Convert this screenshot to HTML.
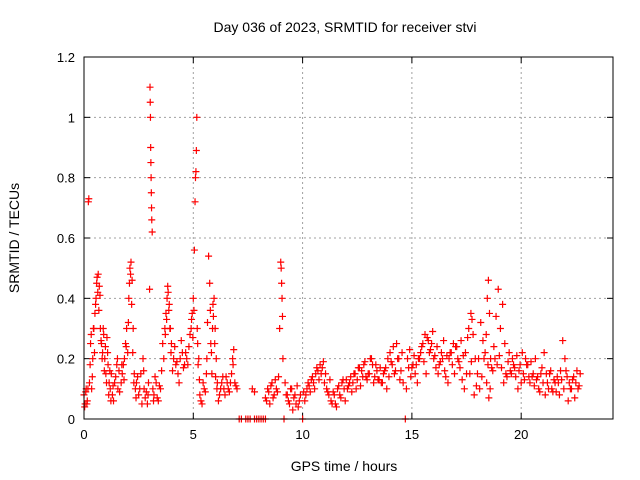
<!DOCTYPE html>
<html><head><meta charset="utf-8"><style>
body{margin:0;background:#fff;}
svg{display:block;font-family:"Liberation Sans",sans-serif;}
</style></head><body>
<svg id="chart" width="640" height="480">
<text x="345" y="32" text-anchor="middle" font-size="14">Day 036 of 2023, SRMTID for receiver stvi</text>
<text x="344" y="471" text-anchor="middle" font-size="14">GPS time / hours</text>
<text transform="translate(19,238) rotate(-90)" text-anchor="middle" font-size="14">SRMTID / TECUs</text>
<g id="grid"></g><g id="ticks"></g><g id="marks"></g>
<rect x="84" y="57" width="529" height="362" fill="none" stroke="#000" stroke-width="1"/>
</svg>
<script>
const xTicks=[0,5,10,15,20];
const xTickLabels=["0","5","10","15","20"];
const yTicks=[0,0.2,0.4,0.6,0.8,1,1.2];
const yTickLabels=["0","0.2","0.4","0.6","0.8","1","1.2"];
const hours=[0,0.05,0.1,0.15,0.2,0.22,0.25,0.3,0.35,0.4,0.45,0.5,0.55,0.6,0.65,0.7,0.75,0.8,0.85,0.9,0.95,1.0,1.05,1.1,1.15,1.2,1.25,1.3,1.35,1.4,1.5,1.55,1.6,1.7,1.75,1.8,1.85,1.9,1.95,2.0,2.05,2.1,2.15,2.2,2.25,2.3,2.35,2.4,2.5,2.6,2.7,2.75,2.8,2.9,2.95,3.0,3.02,3.03,3.04,3.05,3.06,3.07,3.08,3.09,3.1,3.12,3.15,3.2,3.3,3.4,3.5,3.6,3.7,3.75,3.8,3.85,3.9,3.95,4.0,4.1,4.2,4.3,4.4,4.5,4.6,4.7,4.8,4.9,4.95,5.0,5.05,5.08,5.1,5.12,5.14,5.16,5.18,5.2,5.25,5.3,5.4,5.5,5.6,5.65,5.7,5.75,5.8,5.85,5.9,5.95,6.0,6.05,6.1,6.2,6.3,6.4,6.5,6.6,6.7,6.8,6.85,6.9,7.0,7.1,7.2,7.4,7.5,7.6,7.7,7.8,7.8,7.9,8.0,8.1,8.2,8.3,8.3,8.4,8.5,8.6,8.7,8.8,8.9,8.95,9.0,9.02,9.04,9.06,9.08,9.1,9.15,9.2,9.3,9.4,9.5,9.6,9.7,9.8,9.9,10.0,10.1,10.2,10.3,10.4,10.5,10.6,10.7,10.8,10.9,11.0,11.1,11.2,11.3,11.4,11.5,11.6,11.7,11.8,11.9,12.0,12.1,12.2,12.3,12.4,12.5,12.6,12.7,12.8,12.9,13.0,13.1,13.2,13.3,13.4,13.5,13.6,13.7,13.8,13.9,14.0,14.1,14.2,14.3,14.4,14.5,14.6,14.7,14.75,14.8,14.9,15.0,15.1,15.2,15.3,15.4,15.5,15.6,15.7,15.8,15.9,16.0,16.1,16.2,16.3,16.4,16.5,16.6,16.7,16.8,16.9,17.0,17.1,17.2,17.3,17.4,17.5,17.6,17.7,17.75,17.8,17.9,18.0,18.1,18.2,18.3,18.4,18.45,18.5,18.55,18.6,18.7,18.8,18.9,19.0,19.1,19.2,19.3,19.4,19.5,19.6,19.7,19.8,19.9,20.0,20.1,20.2,20.3,20.4,20.5,20.6,20.7,20.8,20.9,21.0,21.1,21.2,21.3,21.4,21.5,21.6,21.7,21.8,21.9,22.0,22.1,22.2,22.3,22.4,22.5,22.6,22.7];
const srmtid=[0.08,0.05,0.1,0.06,0.72,0.73,0.12,0.25,0.1,0.2,0.3,0.35,0.4,0.47,0.48,0.44,0.3,0.25,0.22,0.28,0.2,0.15,0.27,0.18,0.12,0.1,0.15,0.08,0.06,0.12,0.18,0.1,0.16,0.12,0.15,0.18,0.2,0.25,0.3,0.22,0.4,0.5,0.52,0.46,0.3,0.15,0.1,0.12,0.08,0.15,0.2,0.1,0.07,0.05,0.12,0.43,1.1,1.05,1.0,0.9,0.85,0.8,0.75,0.7,0.66,0.62,0.1,0.08,0.12,0.06,0.1,0.25,0.3,0.35,0.4,0.42,0.38,0.3,0.25,0.2,0.18,0.15,0.2,0.22,0.18,0.2,0.24,0.3,0.35,0.4,0.56,0.72,0.8,0.82,0.89,1.0,0.3,0.25,0.2,0.08,0.05,0.1,0.15,0.32,0.54,0.45,0.25,0.15,0.38,0.4,0.3,0.2,0.12,0.08,0.12,0.1,0.14,0.1,0.12,0.2,0.23,0.12,0.1,0,0,0,0,0,0.1,0,0.09,0,0,0,0,0,0.07,0.1,0.05,0.12,0.08,0.1,0.14,0.3,0.52,0.5,0.45,0.4,0.34,0.2,0,0.12,0.08,0.05,0.1,0.07,0.05,0.04,0.08,0,0.06,0.1,0.11,0.13,0.12,0.15,0.16,0.18,0.17,0.12,0.1,0.08,0.06,0.09,0.05,0.1,0.08,0.12,0.1,0.13,0.11,0.14,0.12,0.15,0.13,0.17,0.16,0.18,0.14,0.15,0.2,0.18,0.14,0.16,0.13,0.12,0.15,0.17,0.2,0.22,0.18,0.15,0.25,0.2,0.16,0.12,0,0.1,0.2,0.23,0.17,0.21,0.18,0.2,0.22,0.25,0.28,0.27,0.22,0.25,0.2,0.17,0.15,0.19,0.2,0.16,0.21,0.2,0.22,0.25,0.24,0.2,0.17,0.13,0.1,0.15,0.3,0.35,0.33,0.28,0.2,0.15,0.1,0.14,0.2,0.28,0.4,0.46,0.35,0.2,0.16,0.2,0.18,0.21,0.17,0.12,0.15,0.19,0.16,0.2,0.17,0.21,0.16,0.12,0.15,0.2,0.18,0.12,0.14,0.11,0.13,0.1,0.15,0.12,0.08,0.12,0.15,0.1,0.13,0.09,0.12,0.16,0.26,0.2,0.14,0.12,0.1,0.14,0.12,0.1,0.15];
const hours2=[0.03,0.08,0.13,0.18,0.28,0.33,0.38,0.43,0.48,0.53,0.58,0.63,0.68,0.73,0.78,0.83,0.88,0.93,0.98,1.03,1.08,1.13,1.18,1.23,1.33,1.45,1.53,1.63,1.73,1.83,1.93,2.03,2.08,2.13,2.18,2.23,2.28,2.38,2.45,2.55,2.65,2.73,2.85,2.93,3.18,3.25,3.35,3.45,3.55,3.65,3.72,3.78,3.83,3.88,3.93,3.98,4.05,4.15,4.25,4.35,4.45,4.55,4.65,4.75,4.85,4.92,4.98,5.03,5.22,5.28,5.35,5.45,5.55,5.62,5.78,5.83,5.88,5.92,5.98,6.02,6.08,6.15,6.25,6.35,6.45,6.55,6.65,6.75,6.82,6.95,8.35,8.45,8.55,8.65,8.75,8.85,9.25,9.35,9.45,9.55,9.65,9.75,9.85,10.05,10.15,10.25,10.35,10.45,10.55,10.65,10.75,10.85,10.95,11.05,11.15,11.25,11.35,11.45,11.55,11.65,11.75,11.85,11.95,12.05,12.15,12.25,12.35,12.45,12.55,12.65,12.75,12.85,12.95,13.05,13.15,13.25,13.35,13.45,13.55,13.65,13.75,13.85,13.95,14.05,14.15,14.25,14.35,14.45,14.55,14.85,14.95,15.05,15.15,15.25,15.35,15.45,15.55,15.65,15.75,15.85,15.95,16.05,16.15,16.25,16.35,16.45,16.55,16.65,16.75,16.85,16.95,17.05,17.15,17.25,17.35,17.45,17.55,17.65,17.72,17.85,17.95,18.05,18.15,18.25,18.35,18.42,18.48,18.52,18.58,18.65,18.75,18.85,18.95,19.05,19.15,19.25,19.35,19.45,19.55,19.65,19.75,19.85,19.95,20.05,20.15,20.25,20.35,20.45,20.55,20.65,20.75,20.85,20.95,21.05,21.15,21.25,21.35,21.45,21.55,21.65,21.75,21.85,21.95,22.05,22.15,22.25,22.35,22.45,22.55,22.65];
const srmtid2=[0.04,0.09,0.05,0.1,0.18,0.28,0.14,0.3,0.22,0.38,0.45,0.42,0.36,0.41,0.26,0.2,0.3,0.16,0.24,0.12,0.22,0.08,0.16,0.06,0.11,0.14,0.2,0.09,0.18,0.13,0.24,0.32,0.45,0.48,0.38,0.22,0.12,0.07,0.14,0.1,0.05,0.16,0.09,0.08,0.06,0.14,0.07,0.11,0.16,0.2,0.28,0.33,0.44,0.36,0.3,0.22,0.16,0.24,0.19,0.12,0.26,0.17,0.22,0.18,0.28,0.33,0.27,0.36,0.18,0.13,0.06,0.12,0.09,0.2,0.36,0.22,0.3,0.34,0.25,0.14,0.1,0.06,0.1,0.14,0.08,0.12,0.09,0.15,0.18,0.11,0.06,0.09,0.11,0.07,0.13,0.09,0.08,0.06,0.1,0.03,0.08,0.11,0.06,0.09,0.08,0.12,0.09,0.14,0.1,0.17,0.13,0.15,0.19,0.15,0.09,0.13,0.05,0.08,0.04,0.11,0.07,0.13,0.06,0.1,0.12,0.09,0.15,0.1,0.17,0.11,0.14,0.19,0.13,0.15,0.2,0.12,0.18,0.13,0.17,0.12,0.16,0.1,0.14,0.19,0.24,0.16,0.2,0.13,0.22,0.17,0.14,0.18,0.15,0.12,0.2,0.24,0.19,0.15,0.26,0.23,0.29,0.21,0.24,0.18,0.22,0.26,0.14,0.12,0.22,0.18,0.15,0.24,0.19,0.26,0.21,0.22,0.27,0.15,0.19,0.08,0.11,0.2,0.32,0.26,0.22,0.12,0.18,0.07,0.1,0.17,0.24,0.34,0.43,0.3,0.38,0.25,0.14,0.22,0.15,0.18,0.14,0.1,0.18,0.22,0.13,0.18,0.14,0.19,0.15,0.2,0.14,0.09,0.17,0.22,0.15,0.1,0.16,0.09,0.12,0.14,0.08,0.13,0.1,0.16,0.06,0.1,0.13,0.07,0.16,0.11,0.14,0.12,0.22,0.17,0.11,0.16,0.08,0.12,0.14,0.11];
const NS="http://www.w3.org/2000/svg";
const X0=84,X1=613,Y0=419,Y1=57,XMAX=24.2,YMAX=1.2;
function xs(v){return X0+(X1-X0)*v/XMAX;}
function ys(v){return Y0-(Y0-Y1)*v/YMAX;}
function mk(tag,a,p){const e=document.createElementNS(NS,tag);for(const k in a)e.setAttribute(k,a[k]);p.appendChild(e);return e;}
const grid=document.getElementById('grid'),ticks=document.getElementById('ticks'),marks=document.getElementById('marks');
xTicks.forEach((t,i)=>{const x=xs(t);
 if(t>0){const g=mk('line',{x1:x,x2:x,y1:Y0,y2:Y1,stroke:'#a0a0a0','stroke-dasharray':'2,3'},grid);
 
 }
 mk('line',{x1:x,x2:x,y1:Y0,y2:Y0-6,stroke:'#000'},ticks);
 mk('line',{x1:x,x2:x,y1:Y1,y2:Y1+6,stroke:'#000'},ticks);
 const tx=mk('text',{x:x,y:Y0+20,'text-anchor':'middle','font-size':'13'},ticks);tx.textContent=xTickLabels[i];
 
 
});
yTicks.forEach((t,i)=>{const y=ys(t);
 if(t>0&&t<YMAX){const g=mk('line',{x1:X0,x2:X1,y1:y,y2:y,stroke:'#a0a0a0','stroke-dasharray':'2,3'},grid);
 
 }
 mk('line',{x1:X0,x2:X0+6,y1:y,y2:y,stroke:'#000'},ticks);
 mk('line',{x1:X1,x2:X1-6,y1:y,y2:y,stroke:'#000'},ticks);
 const tx=mk('text',{x:X0-9,y:y+5,'text-anchor':'end','font-size':'13'},ticks);tx.textContent=yTickLabels[i];
 
 
});
function plot(hs,vs){hs.forEach((h,i)=>{if(vs[i]===undefined)return;const x=xs(h),y=ys(vs[i]);
 const p=mk('path',{d:`M${x-3.5},${y}H${x+3.5}M${x},${y-3.5}V${y+3.5}`,stroke:'#ff0000','stroke-width':'1.2',fill:'none'},marks);
 
 
});}
plot(hours,srmtid);
plot(hours2,srmtid2);
</script>
</body></html>
